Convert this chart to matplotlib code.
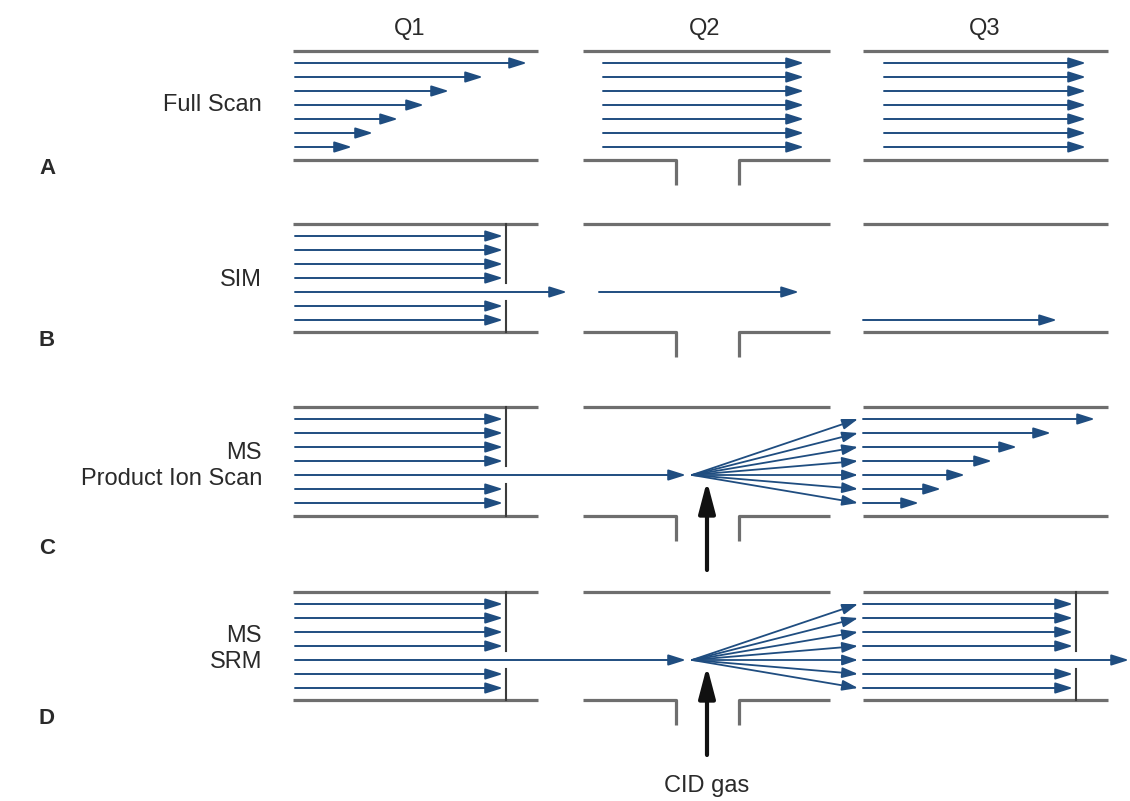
import matplotlib
matplotlib.use("Agg")
import matplotlib.pyplot as plt

plt.rcParams['font.family'] = ['Liberation Sans', 'DejaVu Sans']

# labels
q_labels = ['Q1', 'Q2', 'Q3']
q_label_x = [410, 705, 985]
panel_letters = ['A', 'B', 'C', 'D']
mode_labels = ['Full Scan', 'SIM', 'MS\nProduct Ion Scan', 'MS\nSRM']

# row geometry (pixel units, y down)
rail_tops = [51, 224, 407, 592]
rail_bottoms = [160, 332, 516, 700]
q1_span = (293, 538)
q2_span = (583, 830)
q3_span = (863, 1108)
notch = (676, 739)

# arrow end points
full_q1_ends = [527, 483, 449, 424, 398, 373, 352]
full_q2_end = 804
full_q3_end = 1086
q1_block_end = 503
q3_product_ends = [1095, 1051, 1017, 992, 965, 941, 919]
q3_block_end = 1073

BLUE = '#1f4d80'
GRAY = '#6e6e6e'
DARK = '#3c3c3c'
TXT = '#2a2a2a'

fig = plt.figure(figsize=(11.3, 8.01), dpi=100)
ax = fig.add_axes([0, 0, 1, 1])
ax.set_xlim(0, 1130)
ax.set_ylim(801, 0)
ax.axis('off')


def arrow(x0, y0, x1, y1, lw=1.4, hl=1.05, hw=0.33):
    ax.annotate('', xy=(x1, y1), xytext=(x0, y0),
                arrowprops=dict(arrowstyle='-|>,head_length=%s,head_width=%s' % (hl, hw),
                                color=BLUE, lw=lw, shrinkA=0, shrinkB=0))


def rails(top, bot):
    kw = dict(color=GRAY, lw=2.3, solid_capstyle='butt')
    ax.plot(q1_span, [top, top], **kw)
    ax.plot(q1_span, [bot, bot], **kw)
    ax.plot(q2_span, [top, top], **kw)
    ax.plot([q2_span[0], notch[0], notch[0]], [bot, bot, bot + 25], **kw)
    ax.plot([notch[1], notch[1], q2_span[1]], [bot + 25, bot, bot], **kw)
    ax.plot(q3_span, [top, top], **kw)
    ax.plot(q3_span, [bot, bot], **kw)


def rows(top):
    return [top + 12 + 14 * k for k in range(7)]


def barrier(x, top, bot, ymid):
    ax.plot([x, x], [top, ymid - 9], color=DARK, lw=1.5)
    ax.plot([x, x], [ymid + 9, bot], color=DARK, lw=1.5)


for lab, x in zip(q_labels, q_label_x):
    ax.text(x, 29, lab, ha='center', va='center', fontsize=17, color=TXT)

letter_y = [168, 340, 548, 718]
mode_y = [105, 280, 466, 649]
for i in range(4):
    rails(rail_tops[i], rail_bottoms[i])
    ax.text(47, letter_y[i], panel_letters[i], ha='center', va='center',
            fontsize=16, fontweight='bold', color=TXT)
    ax.text(262, mode_y[i], mode_labels[i], ha='right', va='center',
            multialignment='right', fontsize=17, linespacing=1.2, color=TXT)

# A: full scan
ys = rows(rail_tops[0])
for y, xe in zip(ys, full_q1_ends):
    arrow(295, y, xe, y)
for y in ys:
    arrow(603, y, full_q2_end, y)
    arrow(884, y, full_q3_end, y)

# B: SIM
ys = rows(rail_tops[1])
for k, y in enumerate(ys):
    if k == 4:
        arrow(295, y, 567, y)
        arrow(599, y, 799, y)
    else:
        arrow(295, y, q1_block_end, y)
barrier(506, rail_tops[1], rail_bottoms[1], ys[4])
arrow(863, ys[6], 1057, ys[6])

# C: product ion scan
ys = rows(rail_tops[2])
for k, y in enumerate(ys):
    if k == 4:
        arrow(295, y, 686, y)
    else:
        arrow(295, y, q1_block_end, y)
barrier(506, rail_tops[2], rail_bottoms[2], ys[4])
for y, xe in zip(ys, q3_product_ends):
    arrow(692, ys[4], 858, y, lw=1.3, hl=0.95, hw=0.32)
    arrow(863, y, xe, y)

# D: SRM
ys = rows(rail_tops[3])
for k, y in enumerate(ys):
    if k == 4:
        arrow(295, y, 686, y)
        arrow(863, y, 1129, y)
    else:
        arrow(295, y, q1_block_end, y)
        arrow(863, y, q3_block_end, y)
    arrow(692, ys[4], 858, y, lw=1.3, hl=0.95, hw=0.32)
barrier(506, rail_tops[3], rail_bottoms[3], ys[4])
barrier(1076, rail_tops[3], rail_bottoms[3], ys[4])

# CID gas arrows
for y0, y1 in [(570, 481), (755, 666)]:
    ax.annotate('', xy=(707, y1), xytext=(707, y0),
                arrowprops=dict(arrowstyle='-|>,head_length=1.9,head_width=0.5',
                                color='#111111', lw=3, shrinkA=0, shrinkB=0))
ax.text(707, 786, 'CID gas', ha='center', va='center', fontsize=17, color=TXT)

fig.savefig('out.png', dpi=100, facecolor='white')
